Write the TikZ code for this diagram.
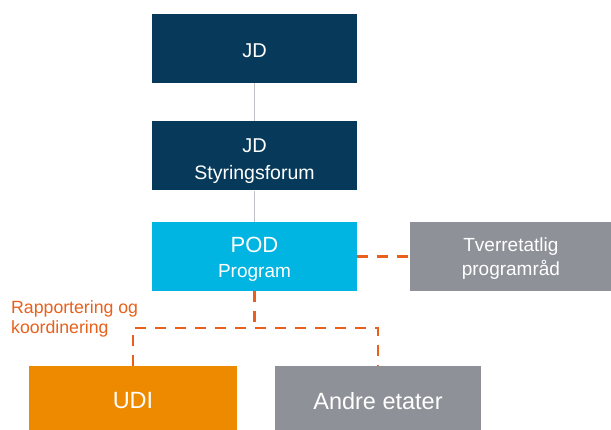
\documentclass[tikz,border=0pt]{standalone}
\usepackage{fontspec}
\setmainfont{Liberation Sans}
\usetikzlibrary{positioning}

\definecolor{jdblue}{HTML}{073A5A}
\definecolor{podcyan}{HTML}{00B5E2}
\definecolor{etatgray}{HTML}{8E9197}
\definecolor{udiorange}{HTML}{EE8A00}
\definecolor{rapporange}{HTML}{E8601C}
\definecolor{linegray}{HTML}{C0C0C6}

\begin{document}
\begin{tikzpicture}[x=1pt, y=-1pt,
  box/.style={rectangle, inner sep=0pt, minimum width=205pt, minimum height=69pt, text=white, align=center},
  link/.style={draw=linegray, line width=1pt},
  rapp/.style={draw=rapporange, line width=2.5pt, dash pattern=on 11pt off 9pt}]

\useasboundingbox (0,0) rectangle (611,430);

\node[box, fill=jdblue, font=\fontsize{20}{26}\selectfont] (jd) at (254.5,48.5) {\rule{0pt}{17.5pt}JD};
\node[box, fill=jdblue, below=38pt of jd, font=\fontsize{19.5}{27.5}\selectfont] (styr) {\rule{0pt}{24pt}{\fontsize{20}{27.5}\selectfont JD}\\Styringsforum};
\node[box, fill=podcyan, below=31pt of styr, font=\fontsize{19}{25}\selectfont] (pod) {\rule{0pt}{21.5pt}{\fontsize{22}{25}\selectfont POD}\\Program};
\node[box, fill=etatgray, minimum width=201pt, right=53pt of pod, font=\fontsize{19}{24}\selectfont] (tverr) {\rule{0pt}{19pt}Tverretatlig\\programråd};

\node[box, fill=udiorange, minimum width=208pt, minimum height=70pt, font=\fontsize{23.5}{28}\selectfont] (udi) at (133,401) {UDI};
\node[box, fill=etatgray, minimum width=206pt, minimum height=70pt, font=\fontsize{23.5}{28}\selectfont] (andre) at (378,401) {Andre etater};

\node[anchor=north west, inner sep=0pt, align=left, text=rapporange, font=\fontsize{17.7}{20.6}\selectfont] (rapptxt) at (11,300) {Rapportering og\\koordinering};

\coordinate (hub) at (pod.south |- 0,328);

\draw[link] (jd) -- (styr);
\draw[link] (styr) -- (pod);

\draw[rapp] (pod) -- (tverr);
\draw[rapp] (pod) -- (hub);
\draw[rapp] (udi.north) -- (udi.north |- hub) -- (andre.north |- hub) -- (andre.north);

\end{tikzpicture}
\end{document}
